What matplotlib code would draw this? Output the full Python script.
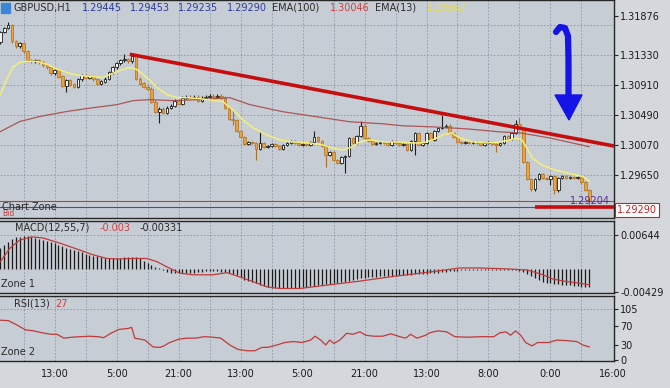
import numpy as np
import matplotlib.pyplot as plt
from matplotlib.patches import Polygon, Rectangle

# GBPUSD H1 candles, oldest first (open of each bar = previous close)
first_open = 1.31509
closes = [1.31650, 1.31706, 1.31748, 1.31523, 1.31452, 1.31495, 1.31382, 1.31255, 1.31241, 1.31255,
          1.31227, 1.31184, 1.31156, 1.31072, 1.31114, 1.31029, 1.30902, 1.30973, 1.30917, 1.30888,
          1.30987, 1.31043, 1.31015, 1.31029, 1.30987, 1.30931, 1.30959, 1.31001, 1.31086, 1.31156,
          1.31213, 1.31255, 1.31269, 1.31241, 1.31311, 1.31001, 1.30931, 1.30888, 1.30860, 1.30677,
          1.30536, 1.30578, 1.30522, 1.30592, 1.30620, 1.30691, 1.30649, 1.30733, 1.30747, 1.30733,
          1.30747, 1.30691, 1.30733, 1.30747, 1.30761, 1.30747, 1.30761, 1.30733, 1.30592, 1.30437,
          1.30423, 1.30268, 1.30183, 1.30085, 1.30113, 1.30099, 1.30014, 1.30099, 1.30042, 1.30056,
          1.30085, 1.30056, 1.30014, 1.30070, 1.30099, 1.30127, 1.30099, 1.30070, 1.30085, 1.30070,
          1.30113, 1.30183, 1.30127, 1.30056, 1.29930, 1.29972, 1.29859, 1.29817, 1.29902, 1.29916,
          1.30169, 1.30099, 1.30197, 1.30339, 1.30169, 1.30127, 1.30085, 1.30099, 1.30113, 1.30099,
          1.30070, 1.30127, 1.30099, 1.30070, 1.30085, 1.30000, 1.30127, 1.30240, 1.30070, 1.30099,
          1.30240, 1.30141, 1.30268, 1.30310, 1.30324, 1.30339, 1.30240, 1.30183, 1.30113, 1.30099,
          1.30113, 1.30099, 1.30113, 1.30099, 1.30070, 1.30099, 1.30113, 1.30085, 1.30070, 1.30099,
          1.30197, 1.30155, 1.30240, 1.30367, 1.30310, 1.29831, 1.29592, 1.29450, 1.29592, 1.29662,
          1.29606, 1.29592, 1.29634, 1.29436, 1.29606, 1.29634, 1.29606, 1.29620, 1.29606, 1.29620,
          1.29549, 1.29445, 1.29290]
long_highs = {2: 1.31791, 32: 1.31340, 60: 1.30564, 67: 1.30254, 81: 1.30268, 93: 1.30409,
              107: 1.30254, 114: 1.30494, 133: 1.30423, 134: 1.30451, 152: 1.29453}
long_lows = {17: 1.30818, 41: 1.30381, 60: 1.30352, 66: 1.29859, 84: 1.29760, 89: 1.29676,
             107: 1.29930, 128: 1.29972, 142: 1.29507, 143: 1.29380, 152: 1.29235}

ema13_idx = [0, 1.6, 3.2, 5.0, 6.8, 9.4, 12.0, 14.8, 17.9, 20.5, 23.9, 26.5, 28.3, 30.8, 33.4, 35.2,
             37.8, 40.4, 43.0, 45.6, 48.1, 51.5, 57.4, 60.0, 62.6, 65.2, 68.8, 72.1, 75.5, 79.9,
             83.2, 85.8, 88.4, 90.7, 92.8, 95.4, 98.7, 102.3, 106.5, 109.0, 111.6, 114.2, 116.5,
             118.6, 121.9, 125.5, 128.9, 131.5, 133.5, 134.6, 135.9, 137.4, 140.0, 143.6, 147.0,
             150.3, 152.0]
ema13_val = [1.30776, 1.30987, 1.31156, 1.31227, 1.31241, 1.31241, 1.31199, 1.31128, 1.31072,
             1.31043, 1.31029, 1.31015, 1.31058, 1.31114, 1.31156, 1.31128, 1.31015, 1.30874,
             1.30776, 1.30733, 1.30733, 1.30719, 1.30677, 1.30564, 1.30423, 1.30310, 1.30211,
             1.30141, 1.30113, 1.30099, 1.30070, 1.30028, 1.30000, 1.30042, 1.30113, 1.30141,
             1.30113, 1.30113, 1.30099, 1.30099, 1.30141, 1.30211, 1.30240, 1.30169, 1.30113,
             1.30099, 1.30113, 1.30141, 1.30169, 1.30141, 1.30028, 1.29882, 1.29783, 1.29713,
             1.29670, 1.29628, 1.29567]

ema100_idx = [0, 5.0, 10.2, 17.2, 23.9, 30.1, 34.2, 38.6, 44.5, 51.5, 59.2, 64.4, 72.9, 81.7,
              90.2, 98.7, 103.9, 111.6, 120.4, 128.9, 134.1, 141.8, 152.0]
ema100_val = [1.30258, 1.30399, 1.30470, 1.30540, 1.30592, 1.30635, 1.30691, 1.30705, 1.30691,
              1.30705, 1.30733, 1.30635, 1.30536, 1.30465, 1.30395, 1.30367, 1.30339, 1.30324,
              1.30296, 1.30254, 1.30240, 1.30169, 1.30046]

trend_idx = [33.4, 158.4]
trend_val = [1.31340, 1.30056]

macd_hist = [0.0040, 0.0046, 0.0052, 0.0057, 0.0060, 0.0061, 0.0062, 0.0062, 0.0060, 0.0058,
             0.0057, 0.0055, 0.0053, 0.0051, 0.0049, 0.0046, 0.0043, 0.0040, 0.0038, 0.0036,
             0.0034, 0.0032, 0.0029, 0.0027, 0.0025, 0.0024, 0.0023, 0.0021, 0.0020, 0.0020,
             0.0020, 0.0021, 0.0022, 0.0023, 0.0023, 0.0022, 0.0020, 0.0016, 0.0012, 0.0008,
             0.0004, 0.0001, -0.0002, -0.0005, -0.0007, -0.0008, -0.0008, -0.0008, -0.0008, -0.0007,
             -0.0007, -0.0006, -0.0005, -0.0004, -0.0003, -0.0003, -0.0003, -0.0005, -0.0006, -0.0008,
             -0.0010, -0.0012, -0.0016, -0.0020, -0.0023, -0.0025, -0.0027, -0.0030, -0.0033, -0.0035,
             -0.0036, -0.0037, -0.0037, -0.0037, -0.0037, -0.0037, -0.0036, -0.0036, -0.0035, -0.0034,
             -0.0033, -0.0032, -0.0031, -0.0030, -0.0029, -0.0028, -0.0027, -0.0026, -0.0025, -0.0024,
             -0.0022, -0.0020, -0.0019, -0.0018, -0.0017, -0.0016, -0.0015, -0.0015, -0.0014, -0.0014,
             -0.0013, -0.0013, -0.0013, -0.0012, -0.0012, -0.0011, -0.0011, -0.0010, -0.0010, -0.0009,
             -0.0009, -0.0008, -0.0008, -0.0007, -0.0006, -0.0005, -0.0004, -0.0003, -0.0003, -0.0002,
             -0.0002, -0.0002, -0.0002, -0.0002, -0.0002, -0.0002, -0.0002, -0.0002, -0.0002, -0.0002,
             -0.0002, -0.0002, -0.0002, -0.0002, -0.0003, -0.0006, -0.0010, -0.0014, -0.0018, -0.0021,
             -0.0024, -0.0026, -0.0027, -0.0028, -0.0029, -0.0030, -0.0030, -0.0031, -0.0032, -0.0033,
             -0.0034, -0.0034, -0.0034]
signal_idx = [0, 2.5, 5.0, 8.1, 11.0, 15.4, 20.5, 23.9, 27.5, 30.8, 34.2, 37.8, 40.4, 43.0, 46.3,
              49.7, 54.8, 58.5, 61.8, 65.2, 68.8, 72.1, 77.3, 85.0, 92.8, 100.5, 108.3, 114.7,
              118.6, 123.7, 131.5, 135.9, 137.4, 140.0, 142.6, 146.2, 149.5, 152.0]
signal_val = [0.0014, 0.0040, 0.0055, 0.0061, 0.0059, 0.0049, 0.0036, 0.0027, 0.0020, 0.0019,
              0.0020, 0.0020, 0.0014, 0.0004, -0.0008, -0.0011, -0.0011, -0.0007, -0.0015, -0.0024,
              -0.0034, -0.0037, -0.0037, -0.0030, -0.0023, -0.0015, -0.0008, -0.0002, 0.0002, 0.0002,
              0.0000, -0.0002, -0.0005, -0.0011, -0.0019, -0.0024, -0.0027, -0.0030]

rsi_idx = [0, 2.1, 4.3, 6.5, 8.6, 10.8, 13.0, 14.6, 16.4, 18.5, 20.8, 22.8, 25.2, 26.7, 28.5, 30.6,
           32.9, 33.9, 34.7, 37.3, 39.4, 41.2, 42.2, 43.7, 46.1, 48.1, 50.5, 52.5, 54.8, 56.9, 59.2,
           61.3, 63.6, 65.7, 67.5, 69.0, 71.4, 73.4, 75.7, 77.8, 80.1, 81.2, 82.7, 84.0, 85.0, 86.1,
           87.6, 89.4, 91.0, 92.8, 94.3, 96.4, 98.7, 100.8, 103.1, 104.6, 105.9, 107.5, 109.8, 110.8,
           112.9, 115.2, 117.3, 120.6, 124.0, 127.4, 128.9, 130.5, 131.7, 133.0, 134.3, 135.6, 137.2,
           138.7, 141.6, 143.6, 146.0, 148.8, 150.3, 152.0]
rsi_val = [82, 81, 72, 62, 60, 56, 53, 53, 45, 47, 48, 49, 48, 46, 55, 63, 65, 67, 45, 41, 27, 26,
           29, 36, 43, 45, 45, 48, 47, 45, 31, 22, 19, 19, 26, 26, 31, 36, 38, 36, 41, 49, 41, 31,
           41, 34, 41, 55, 53, 58, 51, 49, 49, 54, 48, 45, 53, 45, 51, 56, 60, 58, 48, 47, 48, 48,
           56, 58, 51, 60, 51, 36, 29, 36, 36, 41, 40, 38, 31, 27]

tick_pos = [14, 30, 46, 62, 78, 94, 110, 126, 142, 158]
tick_lbl = ['13:00', '5:00', '21:00', '13:00', '5:00', '21:00', '13:00', '8:00', '0:00', '16:00']
price_ticks = [1.31876, 1.31330, 1.30910, 1.30490, 1.30070, 1.29650]
price_grid = [1.29650, 1.30070, 1.30490, 1.30910, 1.31330, 1.31750]

W, H = 670, 388
BG = '#c7cdd5'
GRID = '#8b96a6'
DARK = '#262626'

fig = plt.figure(figsize=(6.7, 3.88), dpi=100, facecolor='#d4d7db')

def fx(x):
    return x / W

def fy(y):
    return 1 - y / H

def panel(top, bottom):
    ax = fig.add_axes([0, fy(bottom), fx(614), (bottom - top) / H], facecolor=BG)
    ax.set_xlim(-0.1, 158.4)
    ax.spines['left'].set_visible(False)
    for s in ['right', 'top', 'bottom']:
        ax.spines[s].set_color(DARK)
        ax.spines[s].set_linewidth(1.0)
    ax.yaxis.tick_right()
    ax.tick_params(axis='y', length=3, width=0.8, color=DARK, labelsize=7, labelcolor='#1a1a1a', pad=1.5)
    ax.tick_params(axis='x', length=0, labelbottom=False)
    for g in range(6, 158, 8):
        ax.axvline(g, color=GRID, lw=0.6, ls=(0, (2, 2)), zorder=0)
    return ax

ax = panel(0, 218)
ax2 = panel(221, 293)
ax3 = panel(296, 361)

# ---- price panel
ax.set_ylim(1.29048, 1.32100)
ax.set_yticks(price_ticks)
ax.set_yticklabels(['%.5f' % p for p in price_ticks])
for g in price_grid:
    ax.axhline(g, color=GRID, lw=0.6, ls=(0, (2, 2)), zorder=0)

opens = [first_open] + closes[:-1]
idx = np.arange(len(closes))
for i, (o, c) in enumerate(zip(opens, closes)):
    hi = long_highs.get(i, max(o, c) + 0.00018)
    lo = long_lows.get(i, min(o, c) - 0.00018)
    bull = c >= o
    wick = '#1c1c1c' if bull else '#a8702a'
    face = '#f2f2f2' if bull else '#eca23c'
    edge = '#1c1c1c' if bull else '#b47a2c'
    ax.vlines(i, lo, hi, color=wick, lw=0.8, zorder=2)
    h = abs(c - o)
    if h < 0.00003:
        ax.hlines(c, i - 0.38, i + 0.38, color=wick, lw=1.0, zorder=3)
    else:
        ax.bar(i, h, bottom=min(o, c), width=0.68, color=face, edgecolor=edge, lw=0.6, zorder=3)

ax.plot(ema100_idx, ema100_val, color='#a84a4a', lw=0.9, alpha=0.9, zorder=4)
ax.plot(ema13_idx, ema13_val, color='#f2f07a', lw=1.1, zorder=5)
ax.plot(trend_idx, trend_val, color='#c60e0e', lw=2.6, zorder=6, solid_capstyle='butt')

# bid / level lines
ax.axhline(1.29290, color='#c83a3a', lw=0.8, zorder=4)
ax.axhline(1.29204, color='#6a3aa8', lw=0.8, zorder=4)
ax.plot([138, 158.4], [1.29204, 1.29204], color='#c80c0c', lw=2.6, zorder=6, solid_capstyle='butt')
ax.text(157.3, 1.29204 + 0.00012, '1.29204', color='#5a2a98', fontsize=7, ha='right', va='bottom', zorder=7)
ax.text(0.5, 1.29110, 'Bid', color='#c83a3a', fontsize=5.5, ha='left', va='center', zorder=7)
ax.text(0.5, 1.29205, 'Chart Zone', color='#2a2a2a', fontsize=7, ha='left', va='center', zorder=8)

# hand-drawn blue arrow
arrow_line = [(556, 32), (560, 27), (565, 28), (568, 36), (568.5, 60), (568.5, 96)]
ax.plot([p[0] / 614 for p in arrow_line], [(218 - p[1]) / 218 for p in arrow_line],
        transform=ax.transAxes, color='#1414e6', lw=4.5, solid_capstyle='round', zorder=9)
head = [(555, 95), (582, 95), (569, 120)]
ax.add_patch(Polygon([(p[0] / 614, (218 - p[1]) / 218) for p in head], closed=True,
                     transform=ax.transAxes, color='#1414e6', zorder=9))

# current price box on the axis
fig.text(fx(617), fy(210), '1.29290', color='#c82020', fontsize=7, ha='left', va='center',
         bbox=dict(boxstyle='square,pad=0.25', fc='white', ec='#c82020', lw=0.8))

# header
fig.add_artist(Rectangle((fx(1), fy(13)), fx(9), 10 / H, color='#3a86d8', transform=fig.transFigure))
head_items = [(13, 'GBPUSD,H1', '#2a2a2a'), (82, '1.29445', '#2c3a9a'), (130, '1.29453', '#2c3a9a'),
              (178, '1.29235', '#2c3a9a'), (227, '1.29290', '#2c3a9a'), (272, 'EMA(100)', '#2a2a2a'),
              (330, '1.30046', '#d04040'), (375, 'EMA(13)', '#2a2a2a'), (427, '1.29567', '#e8e04a')]
for x, s, c in head_items:
    fig.text(fx(x), fy(8), s, color=c, fontsize=7, ha='left', va='center')

# ---- MACD panel
ax2.set_ylim(-0.00456, 0.00912)
ax2.set_yticks([0.00644, -0.00429])
ax2.set_yticklabels(['0.00644', '-0.00429'])
ax2.axhline(0.00644, color=GRID, lw=0.6, ls=(0, (2, 2)), zorder=0)
ax2.vlines(idx, 0, macd_hist, color='#1a1a1a', lw=0.9, zorder=2)
ax2.plot(signal_idx, signal_val, color='#c03a3a', lw=0.9, zorder=3)
fig.text(fx(15), fy(228), 'MACD(12,55,7)', color='#2a2a2a', fontsize=7, ha='left', va='center')
fig.text(fx(100), fy(228), '-0.003', color='#d04040', fontsize=7, ha='left', va='center')
fig.text(fx(140), fy(228), '-0.00331', color='#2a2a2a', fontsize=7, ha='left', va='center')
fig.text(fx(1), fy(284), 'Zone 1', color='#2a2a2a', fontsize=7, ha='left', va='center')

# ---- RSI panel
ax3.set_ylim(-2.06, 131.8)
ax3.set_yticks([105, 70, 30, 0])
ax3.set_yticklabels(['105', '70', '30', '0'])
ax3.axhline(105, color=GRID, lw=0.6, ls=(0, (2, 2)), zorder=0)
ax3.plot(rsi_idx, rsi_val, color='#c03a3a', lw=0.9, zorder=3)
ax3.set_xticks(tick_pos)
ax3.set_xticklabels(tick_lbl)
ax3.tick_params(axis='x', labelbottom=True, labelsize=7, labelcolor='#1a1a1a', pad=6)
fig.text(fx(14), fy(304), 'RSI(13)', color='#2a2a2a', fontsize=7, ha='left', va='center')
fig.text(fx(55), fy(304), '27', color='#d04040', fontsize=7, ha='left', va='center')
fig.text(fx(1), fy(352), 'Zone 2', color='#2a2a2a', fontsize=7, ha='left', va='center')

fig.savefig('out.png', dpi=100, facecolor=fig.get_facecolor())
